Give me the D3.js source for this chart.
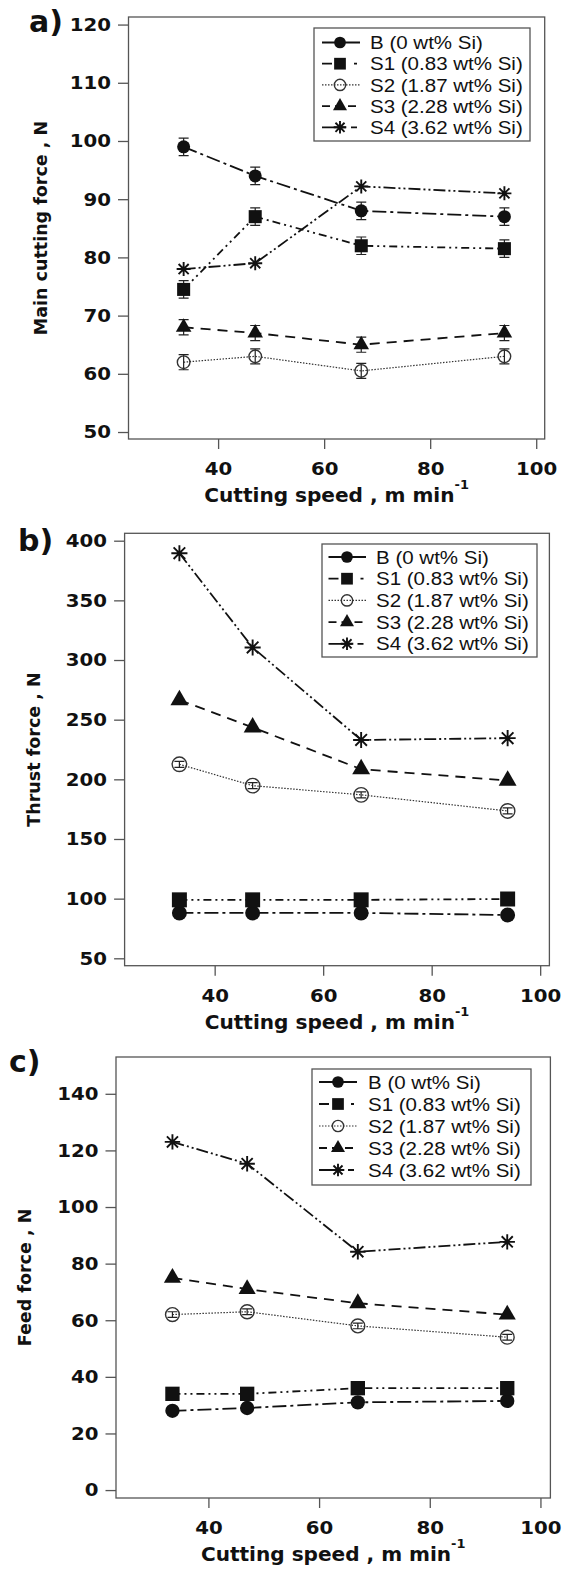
<!DOCTYPE html>
<meta charset="utf-8">
<script src="https://d3js.org/d3.v7.min.js"></script>
<style>body{margin:0;background:#fff}</style>
<svg id="chart" width="563" height="1570"></svg>
<script>
// --- data ---
const speed = [33.5, 47, 67, 94];
const seriesNames = ["B (0 wt% Si)", "S1 (0.83 wt% Si)", "S2 (1.87 wt% Si)", "S3 (2.28 wt% Si)", "S4 (3.62 wt% Si)"];
const xTicks = [40, 60, 80, 100];
const mainTicks = [50, 60, 70, 80, 90, 100, 110, 120];
const thrustTicks = [50, 100, 150, 200, 250, 300, 350, 400];
const feedTicks = [0, 20, 40, 60, 80, 100, 120, 140];

const mainForce = [
  [99, 94, 88, 87],
  [74.5, 87, 82, 81.5],
  [62, 63, 60.5, 63],
  [68, 67, 65, 67],
  [78, 79, 92.2, 91]
];
const mainErr = [1.5, 1.5, 1.3, 1.3, 0];

const thrustForce = [
  [88, 88, 88, 86.3],
  [99, 99, 99, 99.7],
  [212.6, 194.7, 187, 173.5],
  [266.5, 243.5, 208.5, 199],
  [389.5, 310.5, 233, 234.5]
];
const thrustErr = [0, 0, 2.5, 0, 0];

const feedForce = [
  [28, 29, 31, 31.5],
  [34, 34, 36, 36],
  [62, 63, 58, 54],
  [75, 71, 66, 62],
  [123, 115.3, 84.2, 87.7]
];
const feedErr = [0, 0, 1, 0, 0];

// --- look of each series ---
const styles = [
  {dash: "14,4,3,4", sym: "circle", w: 1.8, legendDash: null},
  {dash: "8,4,2,4,2,4", sym: "square", w: 1.8, legendDash: "10,22,3,100"},
  {dash: "1.5,1.5", sym: "ocircle", w: 1.2, legendDash: "1.5,1.5"},
  {dash: "10,7", sym: "triangle", w: 1.8, legendDash: "8,5"},
  {dash: "12,3,2,3,2,3", sym: "star", w: 1.8, legendDash: "24,5,6,100"}
];

const panels = [
  {label: "a)", lx: 29, ly: 32, title: "Main cutting force , N", tx: 47, ms: 1,
   box: [128.5, 17, 544.7, 439], xd: [23.1, 101.6], yd: [48.8, 121.3], ticks: mainTicks,
   vals: mainForce, err: mainErr,
   leg: {box: [314, 28, 530, 141], y0: 42.5, dy: 21.2, s0: 322, s1: 360, m: 340, t: 370}},
  {label: "b)", lx: 18, ly: 551, title: "Thrust force , N", tx: 40, ms: 1.15,
   box: [124.6, 533.3, 549.4, 965.7], xd: [23.4, 101.7], yd: [43.8, 406.2], ticks: thrustTicks,
   vals: thrustForce, err: thrustErr,
   leg: {box: [322, 544, 537, 657], y0: 557, dy: 21.7, s0: 328.5, s1: 366, m: 347, t: 376}},
  {label: "c)", lx: 9, ly: 1072, title: "Feed force , N", tx: 31, ms: 1.1,
   box: [116, 1057, 550.4, 1498], xd: [23.3, 101.8], yd: [-2.8, 153], ticks: feedTicks,
   vals: feedForce, err: feedErr,
   leg: {box: [312, 1069, 531, 1185], y0: 1082, dy: 22, s0: 319, s1: 357, m: 338, t: 368}}
];

const svg = d3.select("#chart");
const SX = 1.08;       // the source image is a little wider than tall
const ink = "#111", frame = "#555";
const bold = "DejaVu Sans";

function marker(g, sym, cx, cy, s) {
  if (sym === "circle") {
    g.append("circle").attr("cx", cx).attr("cy", cy).attr("r", 6.5 * s).attr("fill", ink);
  } else if (sym === "ocircle") {
    g.append("circle").attr("cx", cx).attr("cy", cy).attr("r", 6.3 * s)
      .attr("fill", "none").attr("stroke", "#333").attr("stroke-width", 1.4);
  } else if (sym === "square") {
    g.append("path").attr("transform", `translate(${cx},${cy})`)
      .attr("d", d3.symbol(d3.symbolSquare, 170 * s * s)).attr("fill", ink);
  } else if (sym === "triangle") {
    g.append("path").attr("transform", `translate(${cx},${cy})`)
      .attr("d", d3.symbol(d3.symbolTriangle, 105 * s * s)).attr("fill", ink);
  } else {
    const r = 7 * s, k = r * 0.72;
    g.append("path").attr("transform", `translate(${cx},${cy})`)
      .attr("d", `M${-r},0L${r},0M0,${-r}L0,${r}M${-k},${-k}L${k},${k}M${-k},${k}L${k},${-k}`)
      .attr("stroke", ink).attr("stroke-width", 1.9).attr("fill", "none");
  }
}

panels.forEach(p => {
  const [L, T, R, B] = p.box;
  const x = d3.scaleLinear().domain(p.xd).range([L, R]);
  const y = d3.scaleLinear().domain(p.yd).range([B, T]);
  const g = svg.append("g");

  // axes
  g.append("g").attr("transform", `translate(${L},0)`)
    .call(d3.axisLeft(y).tickValues(p.ticks).tickSize(10.5).tickPadding(7))
    .call(a => a.select(".domain").remove())
    .call(a => a.selectAll("line").attr("stroke", frame).attr("stroke-width", 1.3))
    .call(a => a.selectAll("text").attr("font-family", bold).attr("font-weight", "bold")
      .attr("font-size", 18.3).attr("fill", ink)
      .attr("x", -17.5 / SX).attr("transform", `scale(${SX},1)`));

  g.append("g").attr("transform", `translate(0,${B})`)
    .call(d3.axisBottom(x).tickValues(xTicks).tickSize(10).tickPadding(13))
    .call(a => a.select(".domain").remove())
    .call(a => a.selectAll("line").attr("stroke", frame).attr("stroke-width", 1.3))
    .call(a => a.selectAll("text").attr("font-family", bold).attr("font-weight", "bold")
      .attr("font-size", 18.3).attr("fill", ink).attr("transform", `scale(${SX},1)`));

  g.append("rect").attr("x", L).attr("y", T).attr("width", R - L).attr("height", B - T)
    .attr("fill", "none").attr("stroke", frame).attr("stroke-width", 1.3);

  // axis titles
  const xt = g.append("text")
    .attr("transform", `translate(${(L + R) / 2},${B + 63}) scale(${SX},1)`)
    .attr("text-anchor", "middle").attr("font-family", bold).attr("font-weight", "bold")
    .attr("font-size", 18.6).attr("fill", ink);
  xt.append("tspan").text("Cutting speed , m min");
  xt.append("tspan").attr("dy", -13).attr("font-size", 12).text("-1");

  g.append("text")
    .attr("transform", `translate(${p.tx},${(T + B) / 2}) rotate(-90)`)
    .attr("text-anchor", "middle").attr("font-family", bold).attr("font-weight", "bold")
    .attr("font-size", 17.5).attr("fill", ink).text(p.title);

  g.append("text").attr("x", p.lx).attr("y", p.ly)
    .attr("font-family", bold).attr("font-weight", "bold").attr("font-size", 30)
    .attr("fill", ink).text(p.label);

  // lines
  const line = d3.line().x((d, i) => x(speed[i])).y(d => y(d));
  p.vals.forEach((vals, si) => {
    const st = styles[si];
    g.append("path").attr("d", line(vals)).attr("fill", "none")
      .attr("stroke", si === 2 ? "#333" : ink).attr("stroke-width", st.w)
      .attr("stroke-dasharray", st.dash);
  });

  // error bars + markers
  p.vals.forEach((vals, si) => {
    const e = p.err[si];
    vals.forEach((v, i) => {
      const cx = x(speed[i]);
      if (e > 0) {
        const y0 = y(v - e), y1 = y(v + e);
        g.append("path")
          .attr("d", `M${cx},${y0}L${cx},${y1}M${cx - 5},${y0}L${cx + 5},${y0}M${cx - 5},${y1}L${cx + 5},${y1}`)
          .attr("stroke", "#222").attr("stroke-width", 1.2).attr("fill", "none");
      }
      marker(g, styles[si].sym, cx, y(v), p.ms);
    });
  });

  // legend
  const lg = p.leg;
  g.append("rect").attr("x", lg.box[0]).attr("y", lg.box[1])
    .attr("width", lg.box[2] - lg.box[0]).attr("height", lg.box[3] - lg.box[1])
    .attr("fill", "#fff").attr("stroke", frame).attr("stroke-width", 1.3);
  seriesNames.forEach((name, si) => {
    const st = styles[si];
    const ry = lg.y0 + si * lg.dy;
    g.append("line").attr("x1", lg.s0).attr("x2", lg.s1).attr("y1", ry).attr("y2", ry)
      .attr("stroke", si === 2 ? "#333" : ink).attr("stroke-width", si === 2 ? 1.2 : 1.8)
      .attr("stroke-dasharray", st.legendDash);
    marker(g, st.sym, lg.m, ry, 0.9);
    g.append("text").attr("transform", `translate(${lg.t},${ry}) scale(${SX},1)`)
      .attr("dy", "0.35em").attr("font-family", "Liberation Sans").attr("font-size", 19)
      .attr("fill", ink).text(name);
  });
});
</script>
